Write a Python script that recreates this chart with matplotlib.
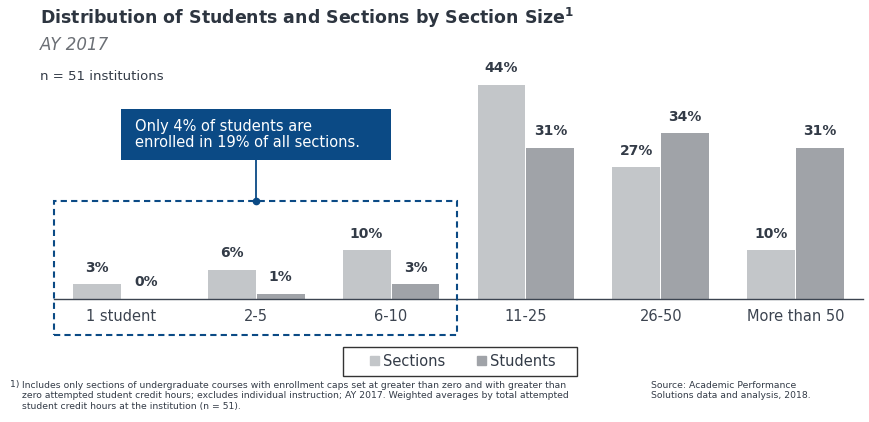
import matplotlib
matplotlib.use("Agg")
import matplotlib.pyplot as plt
from matplotlib.patches import Rectangle

categories = ["1 student", "2-5", "6-10", "11-25", "26-50", "More than 50"]
sections = [3, 6, 10, 44, 27, 10]
students = [0, 1, 3, 31, 34, 31]

c_sec = "#c3c6c9"
c_stu = "#a0a3a8"
navy = "#0b4a85"
dark = "#333b47"

W, H = 870, 422
fig = plt.figure(figsize=(W / 100, H / 100), dpi=100)

def fx(x):
    return x / W

def fy(y):
    return 1 - y / H

ax = fig.add_axes([fx(54), fy(299), (863 - 54) / W, 234 / H])
x = list(range(len(categories)))
bw = 0.355
xs = [i - bw / 2 - 0.004 for i in x]
xt = [i + bw / 2 + 0.004 for i in x]
b1 = ax.bar(xs, sections, bw, color=c_sec)
b2 = ax.bar(xt, students, bw, color=c_stu)
for bars, vals in ((b1, sections), (b2, students)):
    for b, v in zip(bars, vals):
        ax.annotate(f"{v}%", (b.get_x() + b.get_width() / 2, v),
                    xytext=(0, 7), textcoords="offset points",
                    ha="center", va="bottom", fontsize=10,
                    fontweight="bold", color=dark)

ax.set_xlim(-0.5, 5.5)
ax.set_ylim(0, 48)
ax.set_xticks(x)
ax.set_xticklabels(categories, fontsize=10.5, color="#3c4450")
ax.tick_params(axis="x", length=0, pad=7)
ax.set_yticks([])
for s in ("top", "right", "left"):
    ax.spines[s].set_visible(False)
ax.spines["bottom"].set_color("#3c4450")
ax.spines["bottom"].set_linewidth(1.0)
ax.patch.set_alpha(0)

# titles
fig.text(fx(40), fy(18), "Distribution of Students and Sections by Section Size$^{\\mathbf{1}}$",
         fontsize=12.5, fontweight="bold", color="#2d3540", va="center")
fig.text(fx(40), fy(45), "AY 2017", fontsize=12, style="italic", color="#6b6f75", va="center")
fig.text(fx(40), fy(77), "n = 51 institutions", fontsize=9.5, color=dark, va="center")

# dashed highlight box
fig.patches.append(Rectangle((fx(54), fy(335)), (457 - 54) / W, (335 - 201) / H,
                             transform=fig.transFigure, fill=False, edgecolor=navy,
                             linestyle=(0, (3, 2)), linewidth=1.5))
# callout
fig.patches.append(Rectangle((fx(121), fy(160)), (391 - 121) / W, (160 - 109) / H,
                             transform=fig.transFigure, facecolor=navy, edgecolor="none"))
fig.text(fx(135), fy(134.5), "Only 4% of students are\nenrolled in 19% of all sections.",
         fontsize=10.5, color="white", va="center", linespacing=1.05)
fig.add_artist(plt.Line2D([fx(256), fx(256)], [fy(160), fy(201)], color=navy, lw=1.3))
fig.add_artist(plt.Line2D([fx(256)], [fy(201)], marker="o", ms=4.5, color=navy))

# legend
fig.patches.append(Rectangle((fx(343), fy(376)), (577 - 343) / W, (376 - 347) / H,
                             transform=fig.transFigure, fill=False, edgecolor="#333333",
                             linewidth=1.0))
leg = fig.legend([Rectangle((0, 0), 1, 1, color=c_sec), Rectangle((0, 0), 1, 1, color=c_stu)],
                 ["Sections", "Students"], loc="center", bbox_to_anchor=(fx(463), fy(361.5)),
                 ncol=2, fontsize=10.5, frameon=False,
                 handlelength=0.6, handleheight=0.6, handletextpad=0.3,
                 columnspacing=2.2)
for t in leg.get_texts():
    t.set_color(dark)

# footnotes
fn = ["Liberation Sans Narrow", "DejaVu Sans"]
fig.text(fx(10), fy(385), "1)", fontsize=6.7, color=dark, va="center", family=fn)
fig.text(fx(22), fy(396),
         "Includes only sections of undergraduate courses with enrollment caps set at greater than zero and with greater than\n"
         "zero attempted student credit hours; excludes individual instruction; AY 2017. Weighted averages by total attempted\n"
         "student credit hours at the institution (n = 51).",
         fontsize=6.7, color=dark, va="center", family=fn, linespacing=1.2)
fig.text(fx(651), fy(390.5), "Source: Academic Performance\nSolutions data and analysis, 2018.",
         fontsize=6.7, color=dark, va="center", family=fn, linespacing=1.2)

fig.savefig("out.png", dpi=100)
